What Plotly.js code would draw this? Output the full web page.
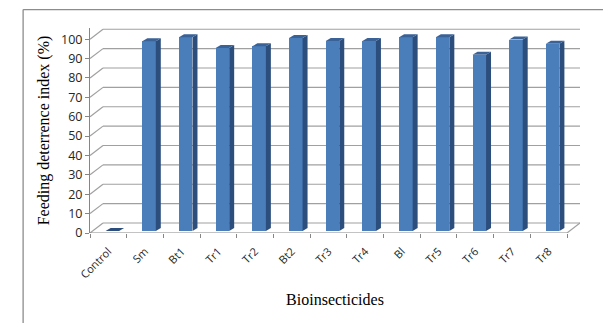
<!DOCTYPE html>
<html>
<head>
<meta charset="utf-8">
<script src="https://cdn.plot.ly/plotly-3.0.1.min.js"></script>
<style>
  html, body { margin: 0; padding: 0; background: #fff; }
  #chart { width: 603px; height: 323px; }
</style>
</head>
<body>
<div id="chart"></div>
<script>
// Feeding deterrence index of each bioinsecticide treatment
const categories = ["Control", "Sm", "Bt1", "Tr1", "Tr2", "Bt2", "Tr3", "Tr4", "Bl", "Tr5", "Tr6", "Tr7", "Tr8"];
const deterrence = [0, 97.9, 100, 94.4, 95.3, 99.6, 98.1, 98.1, 100, 100, 90.9, 98.8, 96.6];
const yTicks = [0, 10, 20, 30, 40, 50, 60, 70, 80, 90, 100];

// Pseudo-3D geometry, in axis units
const X_PX = 36.69;            // pixels per category
const Y_PX = 1.9376;           // pixels per percentage point
const WALL_DX = 13 / X_PX;     // back wall shift to the right
const WALL_DY = 10 / Y_PX;     // back wall shift upwards
const BAR_DX = 4 / X_PX;       // bar front face set back from the floor edge
const BAR_DY = 2 / Y_PX;
const BAR_W = 13.5 / X_PX;     // width of a bar front face
const SIDE_DX = 5 / X_PX;      // depth of a bar as seen on its side / top
const SIDE_DY = 3 / Y_PX;

const n = categories.length;
const xIdx = categories.map((_, i) => i);
const xMin = -0.5, xMax = n - 0.5;
const yMax = 105.8;

const faceColor = "#4A7EBB", sideColor = "#2C4E7D", capColor = "#3A6296";
const gridColor = "#A0A0A0", axisColor = "#868686";

const shapes = [];
const P = (x, y) => x + "," + y;

// back wall gridlines and left wall diagonals
yTicks.forEach(v => {
  shapes.push({type: "line", xref: "x", yref: "y", layer: "below",
    x0: xMin + WALL_DX, x1: xMax + WALL_DX, y0: v + WALL_DY, y1: v + WALL_DY,
    line: {color: gridColor, width: 1.2}});
  shapes.push({type: "line", xref: "x", yref: "y", layer: "below",
    x0: xMin, x1: xMin + WALL_DX, y0: v, y1: v + WALL_DY,
    line: {color: gridColor, width: 1.2}});
});
// floor: right edge
shapes.push({type: "line", xref: "x", yref: "y", layer: "below",
  x0: xMax, x1: xMax + WALL_DX, y0: 0, y1: WALL_DY,
  line: {color: gridColor, width: 1.2}});

// bar sides and caps
deterrence.forEach((v, i) => {
  const xl = i + BAR_DX - BAR_W / 2, xr = i + BAR_DX + BAR_W / 2;
  const y0 = BAR_DY, y1 = BAR_DY + v;
  if (v > 0) {
    shapes.push({type: "path", xref: "x", yref: "y", layer: "above",
      path: "M" + P(xr, y0) + "L" + P(xr + SIDE_DX, y0 + SIDE_DY) + "L" + P(xr + SIDE_DX, y1 + SIDE_DY) + "L" + P(xr, y1) + "Z",
      fillcolor: sideColor, line: {width: 0}});
  }
  shapes.push({type: "path", xref: "x", yref: "y", layer: "above",
    path: "M" + P(xl, y1) + "L" + P(xl + SIDE_DX, y1 + SIDE_DY) + "L" + P(xr + SIDE_DX, y1 + SIDE_DY) + "L" + P(xr, y1) + "Z",
    fillcolor: v > 0 ? capColor : sideColor, line: {width: 0}});
});

// outer chart frame (left and top edges)
shapes.push({type: "line", xref: "paper", yref: "paper", x0: -0.1365, x1: -0.1365, y0: -0.45, y1: 1.09,
  line: {color: "#8C8C8C", width: 1.3}});

const data = [{
  type: "bar",
  x: xIdx.map(i => i + BAR_DX),
  y: deterrence,
  base: deterrence.map(() => BAR_DY),
  width: BAR_W,
  marker: {color: faceColor, line: {width: 0}},
  hoverinfo: "skip"
}, {
  // category boundary ticks along the front floor edge
  type: "scatter", x: [null], y: [null], xaxis: "x2", yaxis: "y",
  showlegend: false, hoverinfo: "skip"
}];

const layout = {
  width: 603, height: 323,
  margin: {l: 90, r: 23, t: 28, b: 90},
  paper_bgcolor: "#fff", plot_bgcolor: "rgba(0,0,0,0)",
  showlegend: false,
  bargap: 0,
  xaxis: {
    range: [xMin, xMax + WALL_DX],
    tickmode: "array", tickvals: xIdx, ticktext: categories,
    tickangle: -45, ticks: "", ticklabelstandoff: 9,
    showgrid: false, zeroline: false, showline: false,
    tickfont: {family: "Open Sans, sans-serif", size: 11, color: "#262626"},
    title: {text: "Bioinsecticides", standoff: 13,
      font: {family: "Liberation Serif, serif", size: 16, color: "#000"}}
  },
  xaxis2: {
    overlaying: "x", range: [xMin, xMax + WALL_DX],
    tickmode: "array", tickvals: xIdx.map(i => i - 0.5).concat([xMax]),
    ticks: "outside", ticklen: 4, tickcolor: axisColor, tickwidth: 1,
    showticklabels: false, showgrid: false, zeroline: false, side: "bottom"
  },
  yaxis: {
    range: [0, yMax],
    tickmode: "array", tickvals: yTicks,
    ticks: "outside", ticklen: 4, tickcolor: axisColor,
    showgrid: false, zeroline: false,
    showline: true, linecolor: axisColor, linewidth: 1,
    tickfont: {family: "Open Sans, sans-serif", size: 12.5, color: "#262626"},
    title: {text: "Feeding deterrence index (%)", standoff: 7,
      font: {family: "Liberation Serif, serif", size: 16, color: "#000"}}
  },
  shapes: shapes.concat([
    // front floor edge
    {type: "line", xref: "x", yref: "y", x0: xMin, x1: xMax, y0: 0, y1: 0,
      line: {color: axisColor, width: 1}},
    // top frame edge
    {type: "line", xref: "paper", yref: "paper", x0: -0.1365, x1: 1.1, y0: 1.09, y1: 1.09,
      line: {color: "#8C8C8C", width: 1.3}}
  ])
};

Plotly.newPlot("chart", data, layout, {staticPlot: true, displayModeBar: false});
</script>
</body>
</html>
